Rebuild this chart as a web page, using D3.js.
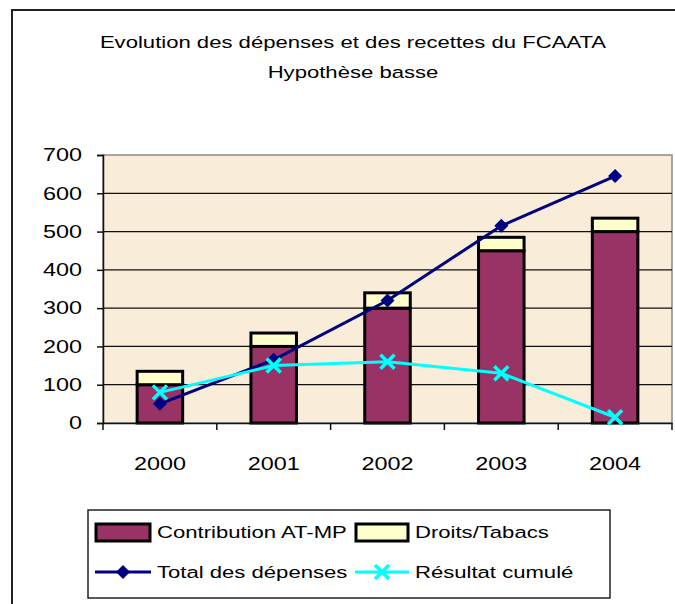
<!DOCTYPE html>
<html><head><meta charset="utf-8">
<script src="https://cdn.jsdelivr.net/npm/d3@7"></script>
<style>body{margin:0;background:#fff}svg{display:block}text{font-family:"Liberation Sans",Arial,sans-serif;fill:#000}</style>
</head><body>
<script>
const years = ["2000","2001","2002","2003","2004"];
const contribution = [100, 200, 300, 450, 500];
const droits = [35, 35, 40, 35, 35];
const totalDepenses = [50, 165, 320, 515, 645];
const resultatCumule = [80, 150, 160, 130, 15];
const yTicks = [0,100,200,300,400,500,600,700];
const titleLines = ["Evolution des dépenses et des recettes du FCAATA", "Hypothèse basse"];
const legendLabels = ["Contribution AT-MP","Droits/Tabacs","Total des dépenses","Résultat cumulé"];

const W=675,H=604, SX=1.3;
const svg=d3.select("body").append("svg").attr("width",W).attr("height",H);
// horizontal stretch of text around its anchor
function stretch(sel){
  sel.each(function(){
    const t=d3.select(this);
    const ax=+t.attr("x")||0;
    t.attr("transform",`translate(${ax},0) scale(${SX},1) translate(${-ax},0)`);
  });
}
// outer frame
svg.append("path").attr("d","M12,"+H+"V10H"+W).attr("fill","none").attr("stroke","#222").attr("stroke-width",2);

const m={l:103,r:672,t:155,b:423};
const x=d3.scaleBand().domain(years).range([m.l,m.r]).padding(0);
const y=d3.scaleLinear().domain([0,700]).range([m.b,m.t]);

svg.append("rect").attr("x",m.l).attr("y",m.t).attr("width",m.r-m.l).attr("height",m.b-m.t).attr("fill","#F9EDD9").attr("stroke","#8a8a8a").attr("stroke-width",1.5);

// gridlines
svg.append("g").selectAll("line").data(yTicks.filter(d=>d>0 && d<700)).join("line")
 .attr("x1",m.l).attr("x2",m.r).attr("y1",d=>y(d)).attr("y2",d=>y(d)).attr("stroke","#111").attr("stroke-width",1.3);

// title
svg.append("g").selectAll("text").data(titleLines).join("text")
 .attr("x",353).attr("y",(d,i)=>48+i*30).attr("text-anchor","middle").attr("font-size",17).text(d=>d).call(stretch);

// bars
const bw=x.bandwidth()*0.4;
const bars=svg.append("g");
years.forEach((yr,i)=>{
  const cx=x(yr)+x.bandwidth()/2;
  bars.append("rect").attr("x",cx-bw/2).attr("y",y(contribution[i])).attr("width",bw).attr("height",y(0)-y(contribution[i]))
   .attr("fill","#993366").attr("stroke","#000").attr("stroke-width",3);
  bars.append("rect").attr("x",cx-bw/2).attr("y",y(contribution[i]+droits[i])).attr("width",bw).attr("height",y(contribution[i])-y(contribution[i]+droits[i]))
   .attr("fill","#FFFFCC").attr("stroke","#000").attr("stroke-width",3);
});

// axes
const yAxis=d3.axisLeft(y).tickValues(yTicks).tickSize(6).tickPadding(15);
const gy=svg.append("g").attr("transform",`translate(${m.l},0)`).call(yAxis);
gy.selectAll("text").attr("font-size",18).style("font-family","Liberation Sans, Arial, sans-serif").call(stretch);
gy.selectAll("line,path").attr("stroke","#111").attr("stroke-width",1.5);

const xAxis=d3.axisBottom(x).tickSize(0).tickPadding(34);
const gx=svg.append("g").attr("transform",`translate(0,${m.b})`).call(xAxis);
gx.selectAll("text").attr("font-size",18).style("font-family","Liberation Sans, Arial, sans-serif").call(stretch);
gx.select(".domain").attr("stroke","#111").attr("stroke-width",1.5);
// category separator ticks
gx.append("g").selectAll("line").data(years.concat(["end"])).join("line")
 .attr("x1",(d,i)=>i<years.length?x(d):m.r).attr("x2",(d,i)=>i<years.length?x(d):m.r)
 .attr("y1",0).attr("y2",7).attr("stroke","#111").attr("stroke-width",1.5);

const cxf=(d,i)=>x(years[i])+x.bandwidth()/2;
// lines
const line=d3.line().x((d,i)=>cxf(d,i)).y(d=>y(d));
svg.append("path").datum(totalDepenses).attr("d",line).attr("fill","none").attr("stroke","#000080").attr("stroke-width",3);
svg.append("path").datum(resultatCumule).attr("d",line).attr("fill","none").attr("stroke","#00FFFF").attr("stroke-width",3);

const diamond=(g,cx,cy,s)=>g.append("path").attr("d",`M${cx},${cy-s}L${cx+s},${cy}L${cx},${cy+s}L${cx-s},${cy}Z`).attr("fill","#000080");
const cross=(g,cx,cy,s)=>g.append("path").attr("d",`M${cx-s},${cy-s}L${cx+s},${cy+s}M${cx+s},${cy-s}L${cx-s},${cy+s}`).attr("stroke","#00FFFF").attr("stroke-width",3.5).attr("fill","none");
const mk=svg.append("g");
totalDepenses.forEach((v,i)=>diamond(mk,cxf(v,i),y(v),7));
resultatCumule.forEach((v,i)=>cross(mk,cxf(v,i),y(v),7));

// legend
const lg=svg.append("g");
lg.append("rect").attr("x",88).attr("y",510).attr("width",522).attr("height",88).attr("fill","#fff").attr("stroke","#222").attr("stroke-width",1.5);
lg.append("rect").attr("x",96).attr("y",524).attr("width",54).attr("height",17).attr("fill","#993366").attr("stroke","#000").attr("stroke-width",3);
lg.append("rect").attr("x",356).attr("y",524).attr("width",52).attr("height",17).attr("fill","#FFFFCC").attr("stroke","#000").attr("stroke-width",3);
lg.append("line").attr("x1",95).attr("x2",151).attr("y1",572).attr("y2",572).attr("stroke","#000080").attr("stroke-width",3);
diamond(lg,123,572,7);
lg.append("line").attr("x1",355).attr("x2",409).attr("y1",572).attr("y2",572).attr("stroke","#00FFFF").attr("stroke-width",3);
cross(lg,382,572,7);
const lpos=[[157,538],[415,538],[157,578],[415,578]];
lg.selectAll("text").data(legendLabels).join("text").attr("x",(d,i)=>lpos[i][0]).attr("y",(d,i)=>lpos[i][1]).attr("font-size",17).text(d=>d).call(stretch);
</script>
</body></html>
